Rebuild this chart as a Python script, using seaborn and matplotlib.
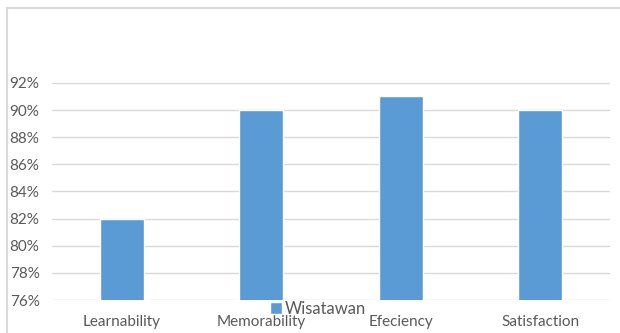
import pandas as pd
import matplotlib.pyplot as plt
import seaborn as sns
from matplotlib.ticker import FuncFormatter

aspek = ["Learnability", "Memorability", "Efeciency", "Satisfaction"]
nilai = [82, 90, 91, 90]
kelompok = "Wisatawan"
y_ticks = [76, 78, 80, 82, 84, 86, 88, 90, 92]

df = pd.DataFrame({"Aspek": aspek, "Nilai": nilai, "Kelompok": kelompok})

sns.set_style("white")
plt.rcParams["font.family"] = ["Lato", "DejaVu Sans"]

fig = plt.figure(figsize=(6.2, 3.33), dpi=100)
ax = fig.add_axes([0.084, 0.099, 0.9, 0.652])

sns.barplot(data=df, x="Aspek", y="Nilai", color="#5b9bd5", width=0.315,
            saturation=1, ax=ax, label=kelompok)

ax.set_ylim(76, 92)
ax.set_yticks(y_ticks)
ax.yaxis.set_major_formatter(FuncFormatter(lambda v, p: f"{v:.0f}%"))
ax.set_xlim(-0.5, 3.5)
ax.grid(axis="y", color="#d9d9d9", linewidth=1)
ax.set_axisbelow(True)
for s in ax.spines.values():
    s.set_visible(False)
ax.tick_params(axis="both", length=0, colors="#595959", labelsize=11)
ax.tick_params(axis="y", pad=9)
ax.tick_params(axis="x", pad=11)
ax.set_xlabel("")
ax.set_ylabel("")
if ax.get_legend():
    ax.get_legend().remove()

h, l = ax.get_legend_handles_labels()
fig.legend(h, l, loc="center", bbox_to_anchor=(318 / 620, 1 - 309 / 333),
           frameon=False, fontsize=12, handlelength=0.7, handleheight=0.7,
           handletextpad=0.15, borderpad=0, labelcolor="#595959")

# frame lines at left and top of the picture
fig.add_artist(plt.Line2D([7 / 620, 7 / 620], [0, 1 - 8 / 333], color="#d9d9d9",
                          linewidth=1.5, transform=fig.transFigure))
fig.add_artist(plt.Line2D([7 / 620, 1], [1 - 8 / 333, 1 - 8 / 333], color="#d9d9d9",
                          linewidth=1.5, transform=fig.transFigure))

fig.savefig("out.png", dpi=100)
